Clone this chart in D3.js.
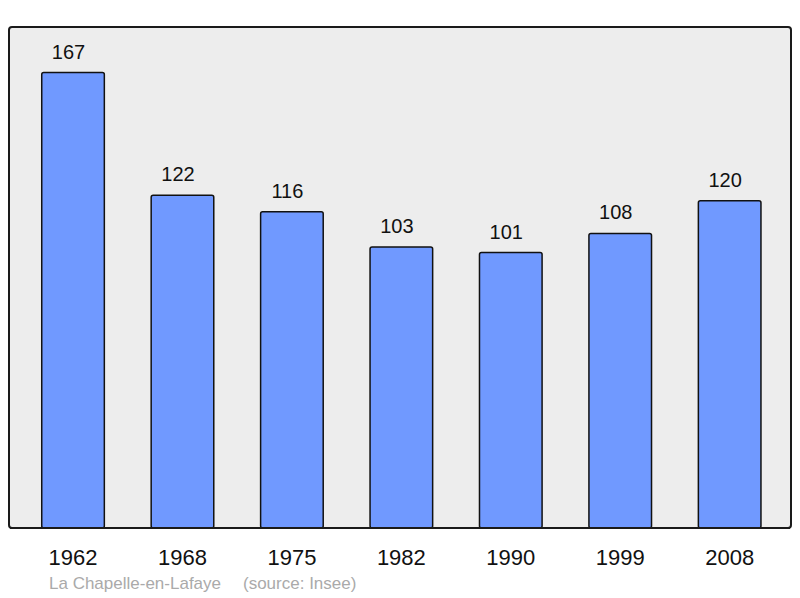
<!DOCTYPE html>
<html>
<head>
<meta charset="utf-8">
<script src="https://cdn.jsdelivr.net/npm/d3@7"></script>
<style>
  body { margin: 0; background: #fff; }
  text { font-family: "Liberation Sans", Arial, sans-serif; }
</style>
</head>
<body>
<div id="chart"></div>
<script>
const years = ["1962", "1968", "1975", "1982", "1990", "1999", "2008"];
const population = [167, 122, 116, 103, 101, 108, 120];
const town = "La Chapelle-en-Lafaye";
const source = "(source: Insee)";

let w = 800, h = 598;

let svg = d3.select("#chart").append("svg")
  .attr("width", w)
  .attr("height", h);

// frame
let frame = { x: 9, y: 27, w: 782, h: 501 };

svg.append("rect")
  .attr("x", frame.x)
  .attr("y", frame.y)
  .attr("width", frame.w)
  .attr("height", frame.h)
  .attr("rx", 3)
  .style("fill", "#ededed")
  .style("stroke", "#1a1a1a")
  .style("stroke-width", 2);

let xScale = d3.scaleBand()
  .domain(years)
  .range([10, 792.7])
  .paddingInner(0.428)
  .paddingOuter(0.29);

let yScale = d3.scaleLinear()
  .domain([0, d3.max(population) * 1.1])
  .range([frame.y + frame.h, frame.y]);

svg.selectAll("rect.bar")
  .data(population)
  .enter()
  .append("rect")
  .classed("bar", true)
  .attr("x", (d, i) => xScale(years[i]))
  .attr("y", d => yScale(d))
  .attr("width", xScale.bandwidth())
  .attr("height", d => yScale(0) - yScale(d))
  .attr("rx", 2)
  .style("fill", "#7099ff")
  .style("stroke", "#111")
  .style("stroke-width", 1.5);

// redraw frame bottom line over bars
svg.append("line")
  .attr("x1", frame.x + 1)
  .attr("x2", frame.x + frame.w - 1)
  .attr("y1", frame.y + frame.h)
  .attr("y2", frame.y + frame.h)
  .style("stroke", "#1a1a1a")
  .style("stroke-width", 2);

svg.selectAll("text.value")
  .data(population)
  .enter()
  .append("text")
  .classed("value", true)
  .attr("x", (d, i) => xScale(years[i]) + xScale.bandwidth() / 2 - 4.5)
  .attr("y", d => yScale(d) - 14)
  .attr("text-anchor", "middle")
  .style("font-size", "20px")
  .style("fill", "#111")
  .text(d => d);

// x axis labels
let xAxis = d3.axisBottom(xScale).tickSize(0).tickPadding(0);
let gx = svg.append("g")
  .attr("transform", `translate(0, ${frame.y + frame.h})`)
  .call(xAxis);
gx.select(".domain").remove();
gx.selectAll("text")
  .attr("dy", null)
  .attr("y", 37)
  .style("font-size", "22px")
  .style("font-family", '"Liberation Sans", Arial, sans-serif')
  .style("fill", "#111");

svg.append("text")
  .attr("x", 49)
  .attr("y", 589)
  .style("font-size", "17px")
  .style("fill", "#aaa")
  .text(town);

svg.append("text")
  .attr("x", 243)
  .attr("y", 589)
  .style("font-size", "17px")
  .style("fill", "#aaa")
  .text(source);
</script>
</body>
</html>
